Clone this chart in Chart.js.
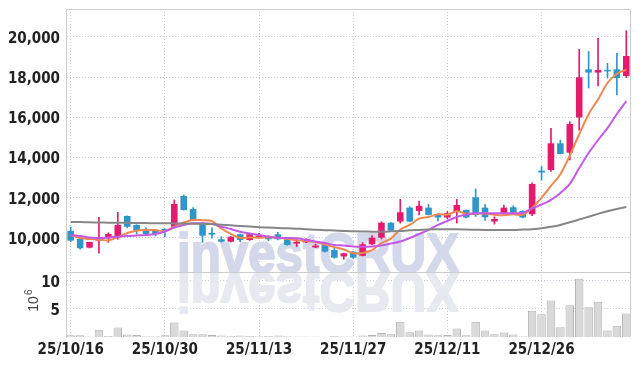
<!DOCTYPE html>
<html>
<head>
<meta charset="utf-8">
<script src="https://cdn.jsdelivr.net/npm/chart.js@4.4.1/dist/chart.umd.min.js"></script>
<style>
  html, body { margin: 0; padding: 0; background: #fff; }
  #wrap { position: relative; width: 639px; height: 366px; overflow: hidden; }
  #priceBox { position: absolute; left: 0; top: 0; width: 639px; height: 272px; }
  #volBox { position: absolute; left: 0; top: 272px; width: 639px; height: 94px; }
</style>
</head>
<body>
<div id="wrap">
  <div id="priceBox"><canvas id="priceChart"></canvas></div>
  <div id="volBox"><canvas id="volChart"></canvas></div>
</div>
<script>
const dates = [
  "25/10/16", "25/10/17", "25/10/20", "25/10/21", "25/10/22", "25/10/23", "25/10/24", "25/10/27", "25/10/28", "25/10/29",
  "25/10/30", "25/10/31", "25/11/03", "25/11/04", "25/11/05", "25/11/06", "25/11/07", "25/11/10", "25/11/11", "25/11/12",
  "25/11/13", "25/11/14", "25/11/17", "25/11/18", "25/11/19", "25/11/20", "25/11/21", "25/11/24", "25/11/25", "25/11/26",
  "25/11/27", "25/11/28", "25/12/01", "25/12/02", "25/12/03", "25/12/04", "25/12/05", "25/12/08", "25/12/09", "25/12/10",
  "25/12/11", "25/12/12", "25/12/15", "25/12/16", "25/12/17", "25/12/18", "25/12/19", "25/12/22", "25/12/23", "25/12/24",
  "25/12/26", "25/12/29", "25/12/30", "26/01/02", "26/01/05", "26/01/06", "26/01/07", "26/01/08", "26/01/09", "26/01/12"
];
const tickDates = ["25/10/16", "25/10/30", "25/11/13", "25/11/27", "25/12/11", "25/12/26"];

const opens = [
  10350, 9950, 9520, 9870, 9985, 10035, 11095, 10650, 10430, 10400,
  10450, 10560, 12090, 11440, 10730, 10250, 9935, 9815, 10185, 9900,
  10050, 10035, 10185, 9935, 9720, 9785, 9530, 9650, 9400, 9080,
  9320, 9115, 9685, 10015, 10760, 10820, 11510, 11345, 11510, 11180,
  11020, 11330, 11390, 12025, 11510, 10820, 11240, 11530, 11345, 11180,
  13350, 13380, 14710, 14245, 16000, 18390, 18230, 18360, 18390, 18060
];
const highs = [
  10530, 9980, 9800, 11030, 10260, 11280, 11100, 10660, 10510, 10420,
  10460, 11890, 12140, 11510, 10780, 10510, 10065, 10070, 10200, 10200,
  10235, 10115, 10285, 9950, 9985, 9965, 9700, 9740, 9520, 9250,
  9330, 9765, 10115, 10810, 10770, 11925, 11560, 11840, 11675, 11200,
  11320, 11925, 11400, 12440, 11675, 11060, 11640, 11600, 11360, 12740,
  13560, 15460, 14875, 15790, 19390, 19280, 19935, 18690, 19190, 20310
];
const lows = [
  9820, 9440, 9500, 9240, 9785, 9935, 10500, 10200, 10150, 10110,
  10060, 10510, 11390, 10850, 9785, 9985, 9800, 9800, 9815, 9880,
  9985, 9865, 9900, 9640, 9570, 9770, 9520, 9300, 8990, 8940,
  8980, 9100, 9670, 9950, 10350, 10740, 10800, 11150, 11140, 10850,
  10950, 10740, 11000, 11070, 10870, 10690, 11200, 11250, 11000, 11110,
  12890, 13310, 14180, 13880, 15370, 17460, 17560, 17955, 17115, 17980
];
const closes = [
  9870, 9490, 9800, 10050, 10200, 10650, 10560, 10365, 10200, 10200,
  10370, 11690, 11390, 10850, 10115, 10165, 9815, 10065, 9900, 10185,
  10115, 9935, 9935, 9650, 9815, 9950, 9620, 9320, 9020, 9240,
  9020, 9685, 10015, 10760, 10365, 11280, 10820, 11600, 11150, 11020,
  11230, 11640, 11020, 11145, 11030, 10945, 11510, 11265, 11020, 12690,
  13260, 14710, 14180, 15670, 17995, 18230, 18360, 18290, 17955, 19055
];

// moving average lines
const ma5 = [
  10150, 10000, 9950, 9930, 9880, 10040, 10250, 10365, 10395, 10395,
  10340, 10565, 10770, 10900, 10880, 10840, 10470, 10200, 10010, 10025,
  10015, 10040, 10015, 9965, 9890, 9855, 9795, 9670, 9545, 9430,
  9245, 9255, 9395, 9745, 9970, 10420, 10650, 10965, 11045, 11175,
  11165, 11330, 11210, 11210, 11215, 11155, 11130, 11180, 11155, 11490,
  12000, 12590, 13170, 14100, 15160, 16160, 16890, 17710, 18170, 18380
];
const ma20 = [
  10150, 10100, 10025, 9985, 10025, 10065, 10100, 10125, 10150, 10200,
  10325, 10520, 10650, 10730, 10730, 10700, 10560, 10450, 10315, 10225,
  10150, 10075, 10015, 10000, 9985, 9900, 9825, 9750, 9650, 9625,
  9575, 9565, 9575, 9625, 9725, 9825, 10000, 10200, 10400, 10650,
  10850, 11045, 11170, 11230, 11230, 11230, 11230, 11230, 11245, 11470,
  11665, 11900, 12240, 12690, 13480, 14230, 14875, 15470, 16170, 16815
];
const ma120 = [
  10800, 10790, 10780, 10770, 10760, 10755, 10750, 10745, 10740, 10735,
  10730, 10725, 10720, 10710, 10700, 10690, 10660, 10630, 10600, 10570,
  10540, 10520, 10500, 10480, 10460, 10440, 10410, 10390, 10370, 10350,
  10330, 10320, 10315, 10315, 10330, 10350, 10380, 10400, 10420, 10430,
  10430, 10430, 10420, 10410, 10400, 10400, 10400, 10400, 10420, 10440,
  10480, 10560, 10650, 10780, 10920, 11060, 11200, 11330, 11440, 11540
];

// volume in millions
const volumes = [
  0.3, 0.3, 0.1, 1.3, 0.2, 1.7, 0.45, 0.35, 0.15, 0.15,
  0.3, 2.6, 1.15, 0.5, 0.5, 0.35, 0.25, 0.2, 0.25, 0.2,
  0.15, 0.2, 0.25, 0.15, 0.1, 0.1, 0.1, 0.05, 0.2, 0.1,
  0.1, 0.25, 0.35, 0.7, 0.5, 2.7, 0.85, 1.15, 0.45, 0.3,
  0.35, 1.5, 0.3, 2.7, 1.15, 0.5, 0.8, 0.45, 0.15, 4.7,
  4.05, 6.5, 1.75, 5.65, 10.4, 5.3, 6.3, 1.15, 2.0, 4.2
];

const priceTicks = [10000, 12000, 14000, 16000, 18000, 20000];
const volumeTicks = [5, 10];

const UP = "#e41b6c";
const DOWN = "#3096c9";
const GRID = "#c9cddc";
const FRAME = "#cccccc";
const TICK_FONT = { family: "'Liberation Sans Narrow', 'DejaVu Sans Condensed', sans-serif", size: 15, weight: "bold" };

const candleColors = closes.map((c, i) => (c >= opens[i] ? UP : DOWN));
const bodies = opens.map((o, i) => [Math.min(o, closes[i]), Math.max(o, closes[i])]);
const wicks = lows.map((l, i) => [l, highs[i]]);

function keepDateTicks(scale) {
  scale.ticks = scale.ticks.filter((t) => tickDates.includes(dates[t.value]));
}

// no extra room around the plot for half-labels
function fixSize(prop, value) {
  return (s) => {
    s[prop] = value;
    s.paddingTop = 0;
    s.paddingBottom = 0;
    s.paddingLeft = 0;
    s.paddingRight = 0;
  };
}

const watermark = {
  id: "watermark",
  beforeDatasetsDraw(chart, args, opts) {
    const ctx = chart.ctx;
    ctx.save();
    ctx.font = "bold 56px 'Liberation Sans Narrow', 'Liberation Sans', Arial, sans-serif";
    const w = ctx.measureText("investCRUX").width;
    ctx.translate(177, opts.baseY);
    ctx.scale(282 / w, opts.flip ? -1 : 1);
    ctx.fillStyle = opts.color;
    ctx.strokeStyle = opts.color;
    ctx.lineWidth = 2;
    ctx.lineJoin = "round";
    ctx.textBaseline = "alphabetic";
    ctx.fillText("investCRUX", 0, 0);
    ctx.strokeText("investCRUX", 0, 0);
    ctx.restore();
  },
};

const frame = {
  id: "frame",
  afterDraw(chart, args, opts) {
    const { ctx, chartArea } = chart;
    ctx.save();
    ctx.strokeStyle = FRAME;
    ctx.lineWidth = 1;
    ctx.beginPath();
    ctx.moveTo(chartArea.left, chartArea.top + 0.5);
    ctx.lineTo(chartArea.right, chartArea.top + 0.5);
    ctx.moveTo(chartArea.right - 0.5, chartArea.top);
    ctx.lineTo(chartArea.right - 0.5, chartArea.bottom);
    ctx.stroke();
    if (opts.unit) {
      ctx.fillStyle = "#444";
      ctx.translate(38, 32);
      ctx.rotate(-Math.PI / 2);
      ctx.font = "14px 'Liberation Sans', Arial, sans-serif";
      ctx.textBaseline = "alphabetic";
      ctx.textAlign = "center";
      ctx.fillText("10", 0, 0);
      ctx.font = "10px 'Liberation Sans', Arial, sans-serif";
      ctx.textAlign = "left";
      ctx.fillText("6", 9, -6);
    }
    ctx.restore();
  },
};

new Chart(document.getElementById("priceChart"), {
  type: "bar",
  data: {
    labels: dates,
    datasets: [
      { type: "line", data: ma120, borderColor: "#868686", borderWidth: 2, pointRadius: 0, tension: 0.3, order: 0 },
      { type: "line", data: ma20, borderColor: "#c658e6", borderWidth: 2, pointRadius: 0, tension: 0.3, order: 0 },
      { type: "line", data: ma5, borderColor: "#f0874f", borderWidth: 2, pointRadius: 0, tension: 0.3, order: 0 },
      { data: bodies, backgroundColor: candleColors, borderColor: candleColors, borderWidth: 0,
        barPercentage: 0.7, categoryPercentage: 1, grouped: false, minBarLength: 1.5, order: 1 },
      { data: wicks, backgroundColor: candleColors, barThickness: 1, grouped: false, order: 2 },
    ],
  },
  options: {
    responsive: true,
    maintainAspectRatio: false,
    animation: false,
    layout: { padding: { left: 0, right: 8, top: 9, bottom: 0 } },
    plugins: {
      legend: { display: false },
      tooltip: { enabled: false },
      watermark: { baseY: 272, color: "#d3d8ea", flip: false },
      frame: {},
    },
    scales: {
      x: {
        offset: true,
        afterBuildTicks: keepDateTicks,
        afterFit: fixSize("height", 0),
        ticks: { display: false },
        grid: { offset: false, color: GRID, drawTicks: false },
        border: { display: false, dash: [1, 2] },
      },
      y: {
        min: 8308,
        max: 21393,
        afterBuildTicks: (s) => { s.ticks = priceTicks.map((v) => ({ value: v })); },
        afterFit: fixSize("width", 66),
        ticks: { font: TICK_FONT, color: "#222", padding: 6, labelOffset: 2 },
        grid: { color: GRID, drawTicks: false },
        border: { display: true, color: FRAME, dash: [1, 2] },
      },
    },
  },
  plugins: [watermark, frame],
});

new Chart(document.getElementById("volChart"), {
  type: "bar",
  data: {
    labels: dates,
    datasets: [
      { data: volumes, backgroundColor: "#d9d9d9", borderColor: "#b4b4b4", borderWidth: 1,
        barPercentage: 1, categoryPercentage: 0.9 },
    ],
  },
  options: {
    responsive: true,
    maintainAspectRatio: false,
    animation: false,
    layout: { padding: { left: 0, right: 8, top: 0, bottom: 0 } },
    plugins: {
      legend: { display: false },
      tooltip: { enabled: false },
      watermark: { baseY: 1, color: "#e7e9f1", flip: true },
      frame: { unit: true },
    },
    scales: {
      x: {
        offset: true,
        afterBuildTicks: keepDateTicks,
        afterFit: fixSize("height", 29),
        ticks: { font: TICK_FONT, color: "#222", padding: 4, maxRotation: 0, autoSkip: false },
        grid: { offset: false, color: GRID, drawTicks: false },
        border: { display: false, dash: [1, 2] },
      },
      y: {
        min: 0,
        max: 11.6,
        afterBuildTicks: (s) => { s.ticks = volumeTicks.map((v) => ({ value: v })); },
        afterFit: fixSize("width", 66),
        ticks: { font: TICK_FONT, color: "#222", padding: 6, labelOffset: 2 },
        grid: { color: GRID, drawTicks: false },
        border: { display: true, color: FRAME, dash: [1, 2] },
      },
    },
  },
  plugins: [watermark, frame],
});
</script>
</body>
</html>
